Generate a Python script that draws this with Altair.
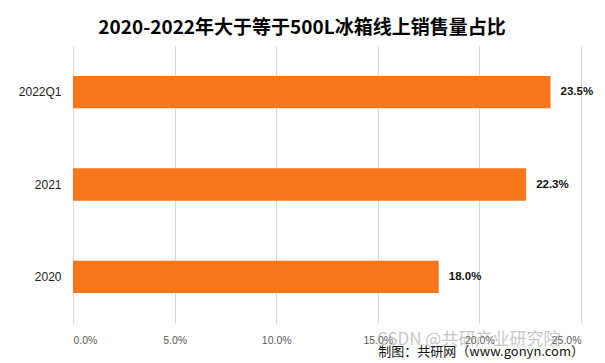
import altair as alt
import pandas as pd

categories = ["2022Q1", "2021", "2020"]
values = [0.235, 0.223, 0.180]
x_ticks = [0, 0.05, 0.10, 0.15, 0.20, 0.25]

title_text = "2020-2022年大于等于500L冰箱线上销售量占比"
source_text = "制图：共研网（www.gonyn.com）"
watermark_text = "CSDN @共研产业研究院"

df = pd.DataFrame({"cat": categories, "val": values})

W, H = 508, 277

y_enc = alt.Y("cat:N", sort=categories,
              scale=alt.Scale(paddingInner=0.65, paddingOuter=0.325),
              axis=alt.Axis(title=None, ticks=False, labelPadding=12,
                            labelFontSize=12, labelFont="Liberation Sans",
                            labelColor="#222222", domainColor="#d9d9d9",
                            grid=False))
x_enc = alt.X("val:Q", scale=alt.Scale(domain=[0, 0.25], nice=False),
              axis=alt.Axis(title=None, format=".1%", values=x_ticks,
                            ticks=False, domain=False, labelPadding=12,
                            labelFontSize=10.5, labelFont="Liberation Sans",
                            labelColor="#595959", gridColor="#d9d9d9"))

bars = alt.Chart(df).mark_bar(color="#F9761A").encode(x=x_enc, y=y_enc)

labels = alt.Chart(df).mark_text(align="left", dx=10, fontWeight="bold",
                                 fontSize=11.5, font="Liberation Sans",
                                 color="#111111").encode(
    x="val:Q", y=alt.Y("cat:N", sort=categories),
    text=alt.Text("val:Q", format=".1%"))

wm = alt.Chart(pd.DataFrame({"t": [watermark_text]})).mark_text(
    align="left", baseline="middle", fontSize=17, font="Noto Sans CJK SC",
    color="#9a9a9a", opacity=0.55).encode(
    x=alt.value(304), y=alt.value(294), text="t:N")

src = alt.Chart(pd.DataFrame({"t": [source_text]})).mark_text(
    align="right", baseline="middle", fontSize=13, font="Noto Sans CJK SC",
    color="#111111").encode(
    x=alt.value(511), y=alt.value(306), text="t:N")

chart = alt.layer(bars, labels, wm, src).properties(
    width=W, height=H,
    title=alt.TitleParams(title_text, fontSize=19, font="Noto Sans CJK SC",
                          fontWeight="bold", anchor="middle", dx=-25,
                          offset=8, color="#000000"),
    autosize=alt.AutoSizeParams(type="none"),
    padding={"left": 65, "top": 38, "right": 16, "bottom": 40},
).configure_view(stroke=None)

chart.save("out.html", embed_options={"renderer": "svg", "actions": False})
